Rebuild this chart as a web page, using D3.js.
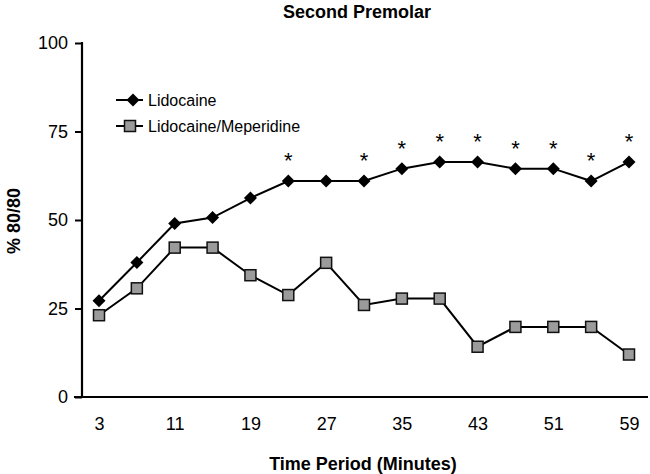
<!DOCTYPE html>
<html><head><meta charset="utf-8">
<script src="https://cdn.jsdelivr.net/npm/d3@7"></script>
<style>body{margin:0;background:#fff}svg{display:block}text{font-family:"Liberation Sans",Arial,sans-serif;fill:#000}</style>
</head><body><svg id="c" width="650" height="474"></svg>
<script>
const minutes = [3,7,11,15,19,23,27,31,35,39,43,47,51,55,59];
const lidocaine = [27.2,38,49,50.7,56.2,61,61,61,64.5,66.4,66.4,64.5,64.5,61,66.4];
const lidoMeperidine = [23.1,30.7,42.2,42.2,34.4,28.8,37.9,26,27.8,27.8,14.2,19.8,19.8,19.8,12];
const significant = [23,31,35,39,43,47,51,55,59];
const xTicks = [3,11,19,27,35,43,51,59];
const yTicks = [0,25,50,75,100];
const seriesNames = ["Lidocaine","Lidocaine/Meperidine"];

const svg = d3.select("#c");
const x = d3.scaleLinear().domain([3,59]).range([99,629]);
const y = d3.scaleLinear().domain([0,100]).range([397,43]);
const F = "Liberation Sans, Arial, sans-serif";

// axes
svg.append("line").attr("x1",82).attr("x2",82).attr("y1",y(100)-1).attr("y2",y(0)+1).attr("stroke","#000").attr("stroke-width",2.2);
svg.append("line").attr("x1",74).attr("x2",648).attr("y1",y(0)).attr("y2",y(0)).attr("stroke","#000").attr("stroke-width",2.2);
const ya = svg.append("g").attr("transform","translate(82,0)")
  .call(d3.axisLeft(y).tickValues(yTicks).tickSize(7).tickPadding(7));
ya.select(".domain").remove();
ya.selectAll(".tick line").attr("stroke","#000").attr("stroke-width",2);
ya.selectAll(".tick text").style("font-size","18px").attr("font-family",F);

const xa = svg.append("g").attr("transform","translate(0,397)")
  .call(d3.axisBottom(x).tickValues(xTicks).tickSize(0).tickPadding(20));
xa.select(".domain").remove();
xa.selectAll(".tick text").style("font-size","18px").attr("font-family",F);

// titles
svg.append("text").attr("x",357).attr("y",18).attr("text-anchor","middle").style("font-size","18px").style("font-weight","bold").text("Second Premolar");
svg.append("text").attr("x",363).attr("y",470).attr("text-anchor","middle").style("font-size","18px").style("font-weight","bold").text("Time Period (Minutes)");
svg.append("text").attr("transform","translate(20,221) rotate(-90)").attr("text-anchor","middle").style("font-size","18px").style("font-weight","bold").text("% 80/80");

const line = d3.line().x((d,i)=>x(minutes[i])).y(d=>y(d));
svg.append("path").datum(lidoMeperidine).attr("d",line).attr("fill","none").attr("stroke","#000").attr("stroke-width",2);
svg.append("path").datum(lidocaine).attr("d",line).attr("fill","none").attr("stroke","#000").attr("stroke-width",2);

const dPath = "M0,-6.5L6.5,0L0,6.5L-6.5,0Z";
const sq = 11;
svg.selectAll(".sq").data(lidoMeperidine).join("rect")
  .attr("x",(d,i)=>x(minutes[i])-sq/2).attr("y",d=>y(d)-sq/2).attr("width",sq).attr("height",sq)
  .attr("fill","#9b9b9b").attr("stroke","#111").attr("stroke-width",1.5);
svg.selectAll(".dm").data(lidocaine).join("path")
  .attr("transform",(d,i)=>`translate(${x(minutes[i])},${y(d)})`)
  .attr("d",dPath).attr("fill","#000");

// asterisks
svg.selectAll(".ast").data(significant).join("text")
  .attr("x",m=>x(m)).attr("y",m=>y(lidocaine[minutes.indexOf(m)])-13)
  .attr("text-anchor","middle").style("font-size","22px").text("*");

// legend
const leg = [{y:100,type:"d"},{y:126,type:"s"}];
leg.forEach((l,i)=>{
  svg.append("line").attr("x1",116).attr("x2",143).attr("y1",l.y).attr("y2",l.y).attr("stroke","#000").attr("stroke-width",2);
  if(l.type==="d") svg.append("path").attr("transform",`translate(133,${l.y})`).attr("d",dPath).attr("fill","#000");
  else svg.append("rect").attr("x",130-sq/2).attr("y",l.y-sq/2).attr("width",sq).attr("height",sq).attr("fill","#9b9b9b").attr("stroke","#111").attr("stroke-width",1.5);
  svg.append("text").attr("x",148).attr("y",l.y+6).style("font-size","16px").text(seriesNames[i]);
});
</script></body></html>
